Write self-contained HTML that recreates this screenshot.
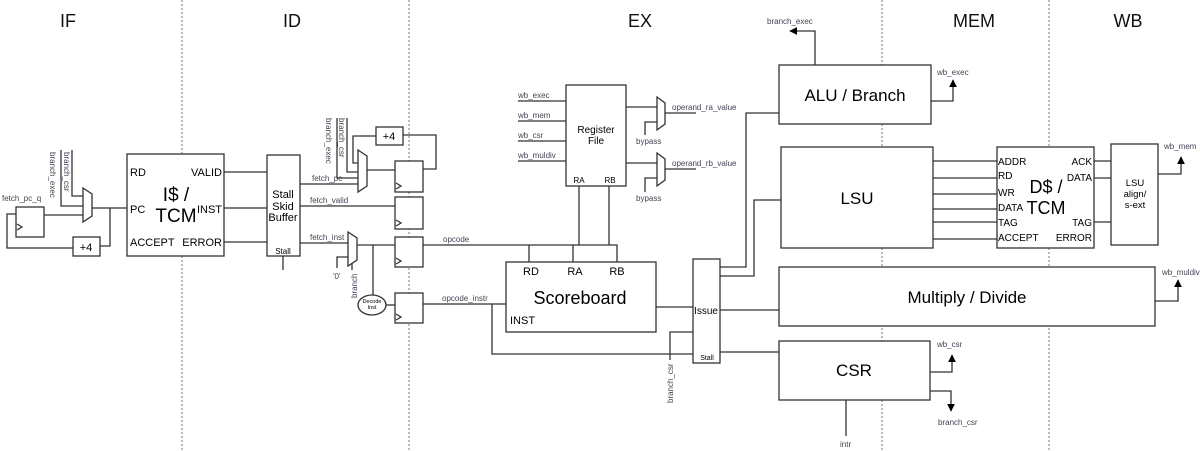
<!DOCTYPE html>
<html><head><meta charset="utf-8"><style>
html,body{margin:0;padding:0;background:#fff;}
svg{display:block;font-family:"Liberation Sans",sans-serif;}
.b{fill:#fff;stroke:#333;stroke-width:1.3;}
.w{fill:none;stroke:#333;stroke-width:1.3;}
.s{font-size:8px;fill:#445;}
.p{font-size:11px;fill:#000;}
</style></head><body>
<svg width="1200" height="451" viewBox="0 0 1200 451" xmlns="http://www.w3.org/2000/svg">
<defs><marker id="a" viewBox="0 0 10 10" refX="9" refY="5" markerWidth="6" markerHeight="6" orient="auto"><path d="M0,0 L10,5 L0,10 z" fill="#000"/></marker></defs>
<g stroke="#777" stroke-width="1" stroke-dasharray="2,2">
<line x1="182" y1="0" x2="182" y2="451"/><line x1="409" y1="0" x2="409" y2="451"/>
<line x1="882" y1="0" x2="882" y2="451"/><line x1="1049" y1="0" x2="1049" y2="451"/></g>
<g font-size="18" text-anchor="middle" fill="#111">
<text x="68" y="27">IF</text><text x="292" y="27">ID</text><text x="640" y="27">EX</text><text x="974" y="27">MEM</text><text x="1128" y="27">WB</text></g>

<!-- IF -->
<rect class="b" x="16" y="207" width="28" height="30"/>
<path class="w" d="M17,224 l5,3 l-5,3"/>
<text class="s" x="2" y="201">fetch_pc_q</text>
<path class="w" d="M16,214 H7 V248 H73"/>
<rect class="b" x="73" y="237" width="27" height="19"/><text class="p" x="86" y="251" text-anchor="middle">+4</text>
<path class="w" d="M100,246 H110 V208"/>
<path class="w" d="M44,215 H83"/>
<path class="b" d="M83,188 L92,194 L92,216 L83,222 Z"/>
<path class="w" d="M92,208 H127"/>
<path class="w" d="M72,150 V196 H83"/><path class="w" d="M61,150 V206 H83"/>
<text class="s" transform="translate(64,152) rotate(90)">branch_csr</text>
<text class="s" transform="translate(50,152) rotate(90)">branch_exec</text>

<rect class="b" x="127" y="154" width="97" height="102"/>
<text class="p" x="130" y="176">RD</text><text class="p" x="130" y="213">PC</text><text class="p" x="130" y="246">ACCEPT</text>
<text class="p" x="222" y="176" text-anchor="end">VALID</text><text class="p" x="222" y="213" text-anchor="end">INST</text><text class="p" x="222" y="246" text-anchor="end">ERROR</text>
<text x="176" y="201" font-size="19" text-anchor="middle">I$ /</text><text x="176" y="222" font-size="19" text-anchor="middle">TCM</text>
<path class="w" d="M224,172 H267 M224,208 H267 M224,242 H267"/>
<rect class="b" x="267" y="155" width="33" height="101"/>
<g font-size="11" text-anchor="middle"><text x="283" y="198">Stall</text><text x="283" y="210">Skid</text><text x="283" y="221">Buffer</text></g>
<text x="283" y="254" font-size="8" text-anchor="middle">Stall</text>
<path class="w" d="M283,256 V270"/>

<!-- ID -->
<path class="w" d="M300,184 H358"/><text class="s" x="312" y="181">fetch_pc</text>
<path class="w" d="M300,206 H395"/><text class="s" x="310" y="203">fetch_valid</text>
<path class="w" d="M300,243 H348"/><text class="s" x="310" y="240">fetch_inst</text>
<path class="b" d="M358,150 L367,156 L367,186 L358,192 Z"/>
<path class="w" d="M367,170 H395"/>
<path class="w" d="M423,169 H436 V135 H403"/>
<rect class="b" x="376" y="127" width="27" height="18"/><text class="p" x="389" y="140" text-anchor="middle">+4</text>
<path class="w" d="M376,136 H353 V163 H358"/>
<path class="w" d="M347,118 V172 H358"/><path class="w" d="M337,118 V178 H358"/>
<text class="s" transform="translate(339,118) rotate(90)">branch_csr</text>
<text class="s" transform="translate(326,118) rotate(90)">branch_exec</text>
<path class="b" d="M348,232 L357,238 L357,260 L348,266 Z"/>
<path class="w" d="M337,268 V257 H348"/><text class="s" x="333" y="279" font-size="10">'0'</text>
<path class="w" d="M352,263 V270"/>
<text class="s" transform="translate(357,298) rotate(-90)">branch</text>
<path class="w" d="M357,245 H395 M373,245 V295"/>
<ellipse class="b" cx="372" cy="305" rx="14" ry="10"/>
<text x="372" y="303" font-size="5.5" text-anchor="middle">Decode</text><text x="372" y="309" font-size="5.5" text-anchor="middle">Inst</text>
<path class="w" d="M386,305 H395"/>
<g>
<rect class="b" x="395" y="161" width="28" height="31"/><path class="w" d="M396,183 l5,3 l-5,3"/>
<rect class="b" x="395" y="197" width="28" height="32"/><path class="w" d="M396,220 l5,3 l-5,3"/>
<rect class="b" x="395" y="237" width="28" height="30"/><path class="w" d="M396,258 l5,3 l-5,3"/>
<rect class="b" x="395" y="293" width="28" height="30"/><path class="w" d="M396,314 l5,3 l-5,3"/>
</g>

<!-- EX -->
<path class="w" d="M423,245 H617 V262 M529,245 V262 M573,245 V262 M579,186 V245 M609,186 V245"/>
<text class="s" x="443" y="242">opcode</text>
<path class="w" d="M423,304 H506 M492,304 V354 H693"/>
<text class="s" x="442" y="301">opcode_instr</text>
<rect class="b" x="506" y="262" width="150" height="70"/>
<text class="p" x="531" y="275" text-anchor="middle">RD</text><text class="p" x="575" y="275" text-anchor="middle">RA</text><text class="p" x="617" y="275" text-anchor="middle">RB</text>
<text x="580" y="304" font-size="18" text-anchor="middle">Scoreboard</text>
<text class="p" x="510" y="324">INST</text>
<rect class="b" x="566" y="85" width="60" height="101"/>
<text x="596" y="133" font-size="10" text-anchor="middle">Register</text><text x="596" y="144" font-size="10" text-anchor="middle">File</text>
<text x="579" y="183" font-size="8" text-anchor="middle">RA</text><text x="610" y="183" font-size="8" text-anchor="middle">RB</text>
<path class="w" d="M518,101 H566 M518,121 H566 M518,141 H566 M518,161 H566"/>
<text class="s" x="518" y="98">wb_exec</text><text class="s" x="518" y="118">wb_mem</text><text class="s" x="518" y="138">wb_csr</text><text class="s" x="518" y="158">wb_muldiv</text>
<path class="w" d="M626,107 H657 M626,163 H657"/>
<path class="b" d="M657,97 L665,103 L665,124 L657,130 Z"/>
<path class="b" d="M657,153 L665,159 L665,180 L657,186 Z"/>
<path class="w" d="M665,113 H696 M665,169 H696 M645,135 V122 H657 M645,192 V178 H657"/>
<text class="s" x="672" y="110">operand_ra_value</text><text class="s" x="672" y="166">operand_rb_value</text>
<text class="s" x="636" y="144">bypass</text><text class="s" x="636" y="201">bypass</text>
<path class="w" d="M656,307 H693"/>
<rect class="b" x="693" y="259" width="27" height="104"/>
<text x="706" y="314" font-size="10" text-anchor="middle">Issue</text>
<text x="707" y="360" font-size="7" text-anchor="middle">Stall</text>
<path class="w" d="M693,332 H670 V360"/>
<text class="s" transform="translate(673,403) rotate(-90)">branch_csr</text>
<path class="w" d="M720,267 H746 V113 H779 M720,276 H754 V200 H781 M720,310 H779 M720,352 H779"/>

<rect class="b" x="779" y="65" width="152" height="59"/>
<text x="855" y="101" font-size="17" text-anchor="middle">ALU / Branch</text>
<path class="w" d="M815,65 V31 H790" marker-end="url(#a)"/><text class="s" x="767" y="24">branch_exec</text>
<path class="w" d="M931,101 H953 V80" marker-end="url(#a)"/><text class="s" x="937" y="75">wb_exec</text>

<rect class="b" x="781" y="147" width="152" height="101"/>
<text x="857" y="204" font-size="17" text-anchor="middle">LSU</text>
<path class="w" d="M933,161 H997 M933,178 H997 M933,194 H997 M933,209 H997 M933,222 H997 M933,239 H997"/>
<rect class="b" x="997" y="147" width="97" height="101"/>
<g font-size="10"><text x="998" y="165">ADDR</text><text x="998" y="179">RD</text><text x="998" y="196">WR</text><text x="998" y="211">DATA</text><text x="998" y="226">TAG</text><text x="998" y="241">ACCEPT</text>
<text x="1092" y="165" text-anchor="end">ACK</text><text x="1092" y="181" text-anchor="end">DATA</text><text x="1092" y="226" text-anchor="end">TAG</text><text x="1092" y="241" text-anchor="end">ERROR</text></g>
<text x="1046" y="193" font-size="18" text-anchor="middle">D$ /</text><text x="1046" y="214" font-size="18" text-anchor="middle">TCM</text>
<path class="w" d="M1094,161 H1111 M1094,178 H1111 M1094,222 H1111"/>
<rect class="b" x="1111" y="144" width="47" height="101"/>
<g font-size="9.5" text-anchor="middle"><text x="1135" y="186">LSU</text><text x="1135" y="197">align/</text><text x="1135" y="208">s-ext</text></g>
<path class="w" d="M1158,174 H1181 V157" marker-end="url(#a)"/><text class="s" x="1164" y="149">wb_mem</text>

<rect class="b" x="779" y="267" width="376" height="59"/>
<text x="967" y="303" font-size="17" text-anchor="middle">Multiply / Divide</text>
<path class="w" d="M1155,301 H1178 V280" marker-end="url(#a)"/><text class="s" x="1162" y="275">wb_muldiv</text>

<rect class="b" x="779" y="341" width="151" height="59"/>
<text x="854" y="376" font-size="17" text-anchor="middle">CSR</text>
<path class="w" d="M930,372 H952 V355" marker-end="url(#a)"/><text class="s" x="937" y="347">wb_csr</text>
<path class="w" d="M930,391 H951 V411" marker-end="url(#a)"/><text class="s" x="938" y="425">branch_csr</text>
<path class="w" d="M846,400 V436"/><text class="s" x="840" y="447">intr</text>
</svg>
</body></html>
